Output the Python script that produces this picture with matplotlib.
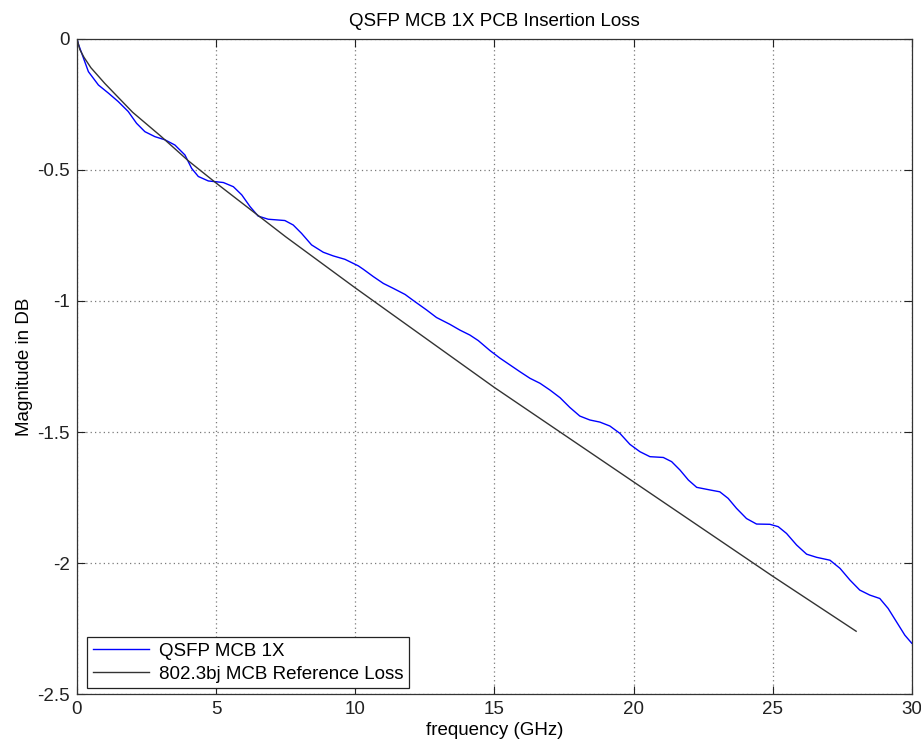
import matplotlib
matplotlib.use("Agg")
from matplotlib import pyplot as plt

qsfp_freq = [0.0, 0.05, 0.41, 0.77, 1.13, 1.48, 1.84, 2.14, 2.44, 2.80, 3.16,
             3.52, 3.88, 4.12, 4.36, 4.72, 5.08, 5.26, 5.62, 5.92, 6.22, 6.51,
             6.87, 7.47, 7.77, 8.07, 8.43, 8.85, 9.21, 9.63, 10.11, 10.29,
             10.65, 11.01, 11.37, 11.79, 12.15, 12.56, 12.92, 13.40, 13.76,
             14.12, 14.42, 14.84, 15.20, 15.56, 15.92, 16.28, 16.64, 17.00,
             17.36, 17.71, 18.07, 18.43, 18.79, 19.15, 19.51, 19.87, 20.23,
             20.59, 21.07, 21.37, 21.67, 21.97, 22.27, 22.75, 23.10, 23.40,
             23.70, 24.06, 24.42, 24.90, 25.20, 25.50, 25.86, 26.22, 26.58,
             27.06, 27.42, 27.78, 28.13, 28.49, 28.85, 29.15, 29.45, 29.75,
             30.0]
qsfp_loss = [0.0, -0.02, -0.125, -0.176, -0.207, -0.239, -0.277, -0.322,
             -0.354, -0.373, -0.385, -0.405, -0.443, -0.494, -0.525, -0.542,
             -0.546, -0.548, -0.564, -0.595, -0.640, -0.676, -0.688, -0.693,
             -0.710, -0.742, -0.786, -0.814, -0.828, -0.841, -0.866, -0.879,
             -0.907, -0.933, -0.952, -0.975, -1.003, -1.034, -1.063, -1.089,
             -1.111, -1.130, -1.151, -1.189, -1.218, -1.244, -1.270, -1.295,
             -1.314, -1.340, -1.369, -1.406, -1.439, -1.454, -1.462, -1.477,
             -1.505, -1.547, -1.575, -1.594, -1.597, -1.613, -1.645, -1.683,
             -1.711, -1.721, -1.728, -1.753, -1.791, -1.830, -1.851, -1.852,
             -1.861, -1.887, -1.931, -1.966, -1.978, -1.989, -2.020, -2.065,
             -2.103, -2.122, -2.135, -2.173, -2.224, -2.275, -2.306]

# 802.3bj MCB reference loss
ref_freq = [0.0, 0.1, 0.25, 0.5, 1.0, 2.0, 3.0, 4.0, 5.0, 7.5, 10.0, 12.5,
            15.0, 17.5, 20.0, 22.5, 25.0, 28.0]
ref_loss = [0.0, -0.04, -0.07, -0.11, -0.17, -0.28, -0.37, -0.465, -0.55,
            -0.755, -0.95, -1.14, -1.33, -1.51, -1.69, -1.87, -2.05, -2.26]

plt.rcParams['font.family'] = ['Liberation Sans', 'DejaVu Sans']
fs = 13.5

fig = plt.figure(figsize=(9.21, 7.48), dpi=100)
ax = fig.add_axes([0.0836, 0.072, 0.9064, 0.876])

ax.plot(qsfp_freq, qsfp_loss, color='#0000ff', lw=1.0, label='QSFP MCB 1X')
ax.plot(ref_freq, ref_loss, color='#333333', lw=1.0,
        label='802.3bj MCB Reference Loss')

ax.set_xlim(0, 30)
ax.set_ylim(-2.5, 0)
ax.set_xticks([0, 5, 10, 15, 20, 25, 30])
ax.set_yticks([-2.5, -2, -1.5, -1, -0.5, 0])
ax.set_yticklabels(['-2.5', '-2', '-1.5', '-1', '-0.5', '0'])
ax.grid(True, linestyle=(0, (1, 2.5)), color='#7a7a7a', lw=0.9)
ax.tick_params(direction='in', length=6, width=0.8, top=True, right=True,
               labelsize=fs, colors='#222222', pad=5)
for s in ax.spines.values():
    s.set_color('#333333')
    s.set_linewidth(0.9)

ax.set_title('QSFP MCB 1X PCB Insertion Loss', fontsize=fs, pad=9)
ax.set_xlabel('frequency (GHz)', fontsize=fs, labelpad=3)
ax.set_ylabel('Magnitude in DB', fontsize=fs, labelpad=3)

leg = ax.legend(loc='lower left', bbox_to_anchor=(0.012, 0.009),
                borderaxespad=0, fontsize=fs, fancybox=False,
                edgecolor='#222222', framealpha=1, handlelength=3.0,
                handletextpad=0.55, labelspacing=0.3, borderpad=0.3)
leg.get_frame().set_linewidth(0.9)

fig.savefig('out.png', dpi=100)
